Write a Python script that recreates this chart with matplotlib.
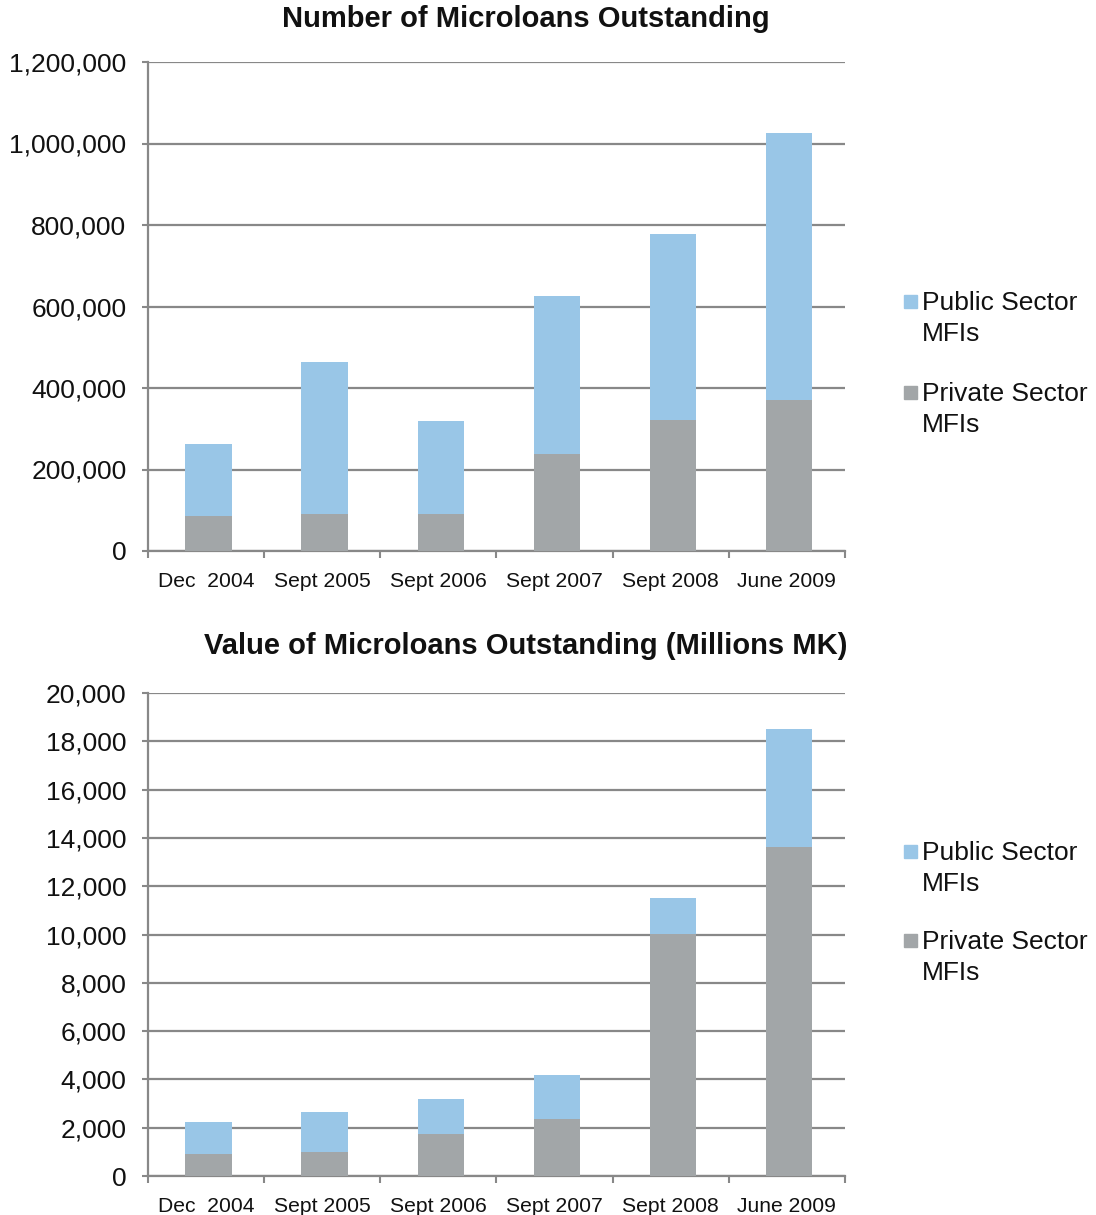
import matplotlib
matplotlib.use("Agg")
import matplotlib.pyplot as plt
from matplotlib.patches import Rectangle
from matplotlib.ticker import FuncFormatter, FixedLocator
import numpy as np

plt.rcParams['font.family'] = ['Liberation Sans', 'DejaVu Sans']

categories = ["Dec  2004", "Sept 2005", "Sept 2006", "Sept 2007", "Sept 2008", "June 2009"]

# Number of microloans outstanding
num_private = [86000, 91000, 91000, 237000, 321000, 370000]
num_public_total = [263000, 464000, 320000, 626000, 778000, 1026000]
num_public = [t - p for t, p in zip(num_public_total, num_private)]

# Value of microloans outstanding (Millions MK)
val_private = [930, 1010, 1720, 2380, 10040, 13610]
val_total = [2230, 2660, 3170, 4170, 11530, 18500]
val_public = [t - p for t, p in zip(val_total, val_private)]

top_title = "Number of Microloans Outstanding"
bottom_title = "Value of Microloans Outstanding (Millions MK)"
legend_labels = ["Public Sector\nMFIs", "Private Sector\nMFIs"]

BLUE = "#99C6E7"
GRAY = "#A2A6A8"
LINE = "#888888"

W, H = 1096, 1215
fig = plt.figure(figsize=(W / 100, H / 100), dpi=100)


def fx(px):
    return px / W


def fy(py):
    return 1 - py / H


def make_axes(left, top, right, bottom, private, public, ymax, ystep, title, title_y, leg_y, leg_gap):
    ax = fig.add_axes([fx(left), fy(bottom), fx(right - left), (bottom - top) / H])
    x = np.arange(len(categories)) + 0.02
    ax.bar(x, private, width=0.4, color=GRAY, zorder=3)
    ax.bar(x, public, width=0.4, bottom=private, color=BLUE, zorder=3)
    ax.set_xlim(-0.5, len(categories) - 0.5)
    ax.set_ylim(0, ymax)
    yt = np.arange(0, ymax + 1, ystep)
    ax.set_yticks(yt)
    ax.yaxis.set_major_formatter(FuncFormatter(lambda v, p: f"{int(v):,}"))
    ax.yaxis.grid(True, color=LINE, linewidth=1.6, zorder=0)
    ax.set_axisbelow(True)
    for s in ["top", "right"]:
        ax.spines[s].set_visible(False)
    for s in ["left", "bottom"]:
        ax.spines[s].set_color(LINE)
        ax.spines[s].set_linewidth(1.6)
    ax.tick_params(axis='y', length=4, width=1.5, color=LINE, pad=11.5, labelsize=19, labelcolor="#111111")
    ax.xaxis.set_major_locator(FixedLocator(np.arange(-0.5, len(categories), 1.0)))
    ax.xaxis.set_minor_locator(FixedLocator(np.arange(len(categories))))
    ax.set_xticklabels([], minor=False)
    ax.set_xticklabels(categories, minor=True)
    ax.tick_params(axis='x', which='major', length=5, width=1.5, color=LINE)
    ax.tick_params(axis='x', which='minor', length=0, pad=15, labelsize=15.2, labelcolor="#111111")
    fig.text(fx(525.5), fy(title_y), title, ha='center', va='center', fontsize=21,
             fontweight='bold', color="#111111")
    # legend
    colors = [BLUE, GRAY]
    for i, (lab, c) in enumerate(zip(legend_labels, colors)):
        y0 = leg_y + i * leg_gap
        fig.patches.append(Rectangle((fx(904), fy(y0 + 6)), fx(13), 13 / H, color=c,
                                     transform=fig.transFigure, figure=fig))
        fig.text(fx(922), fy(y0 - 11), lab, ha='left', va='top', fontsize=19,
                 color="#111111", linespacing=1.38)
    return ax


make_axes(148, 62, 845, 551, num_private, num_public, 1200000, 200000, top_title, 19, 302, 91)
make_axes(148, 693, 845, 1176, val_private, val_public, 20000, 2000, bottom_title, 646, 852, 89)

fig.savefig("out.png", dpi=100)
